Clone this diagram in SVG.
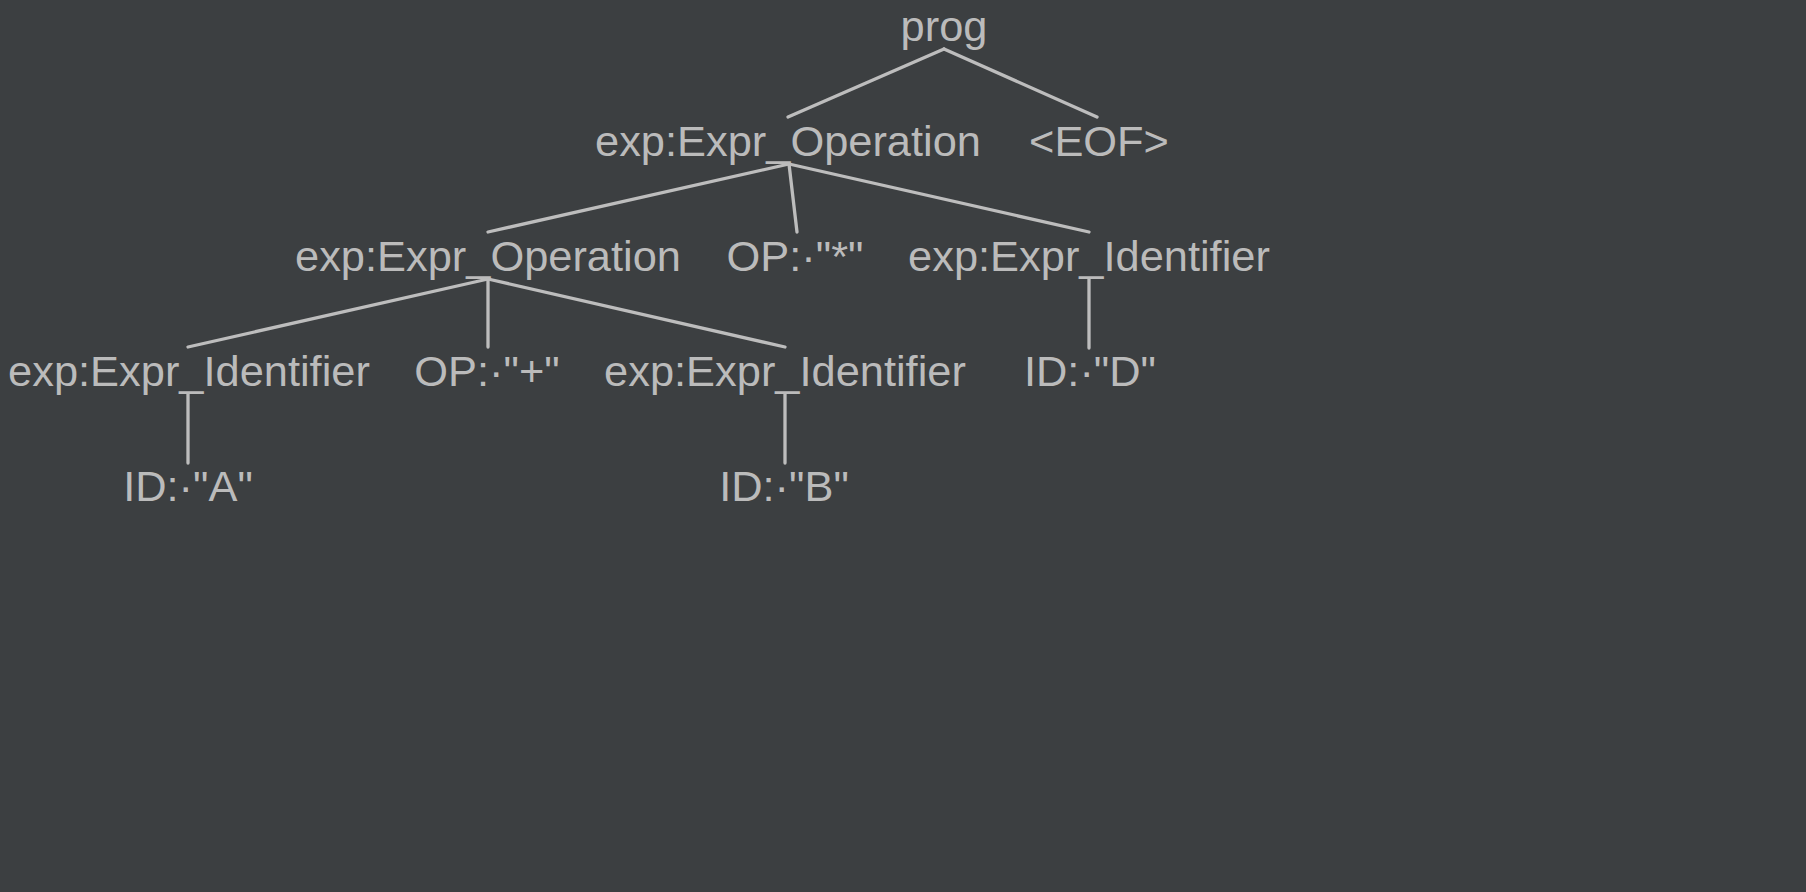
<svg xmlns="http://www.w3.org/2000/svg" width="1806" height="892" viewBox="0 0 1806 892">
<style>
.bg{fill:#3c3f41}
.t{font-family:"Liberation Sans",Arial,sans-serif;font-size:43.4px;fill:#bbbbbb;text-anchor:middle}
.e{stroke:#bdbdbd;stroke-width:3.3;fill:none;stroke-linecap:round}
</style>
<rect class="bg" x="0" y="0" width="1806" height="892"/>
<g id="connectors">
<line class="e" x1="944" y1="49" x2="788" y2="117"/>
<line class="e" x1="944" y1="49" x2="1097" y2="117"/>
<line class="e" x1="789" y1="164" x2="488" y2="232"/>
<line class="e" x1="789" y1="164" x2="797" y2="232"/>
<line class="e" x1="789" y1="164" x2="1089" y2="232"/>
<line class="e" x1="488" y1="279" x2="188" y2="347"/>
<line class="e" x1="488" y1="279" x2="488" y2="347"/>
<line class="e" x1="488" y1="279" x2="785" y2="347"/>
<line class="e" x1="1089" y1="279" x2="1089" y2="348"/>
<line class="e" x1="188" y1="394" x2="188" y2="463"/>
<line class="e" x1="785" y1="394" x2="785" y2="463"/>
</g>
<g id="prog"><text class="t" x="944" y="41">prog</text></g>
<g id="expr_op_1"><text class="t" x="788" y="156">exp:Expr_Operation</text></g>
<g id="eof"><text class="t" x="1099" y="156">&lt;EOF&gt;</text></g>
<g id="expr_op_2"><text class="t" x="488" y="271">exp:Expr_Operation</text></g>
<g id="op_mul"><text class="t" x="795" y="271">OP:·"*"</text></g>
<g id="expr_id_d"><text class="t" x="1089" y="271">exp:Expr_Identifier</text></g>
<g id="expr_id_a"><text class="t" x="189" y="386">exp:Expr_Identifier</text></g>
<g id="op_plus"><text class="t" x="487" y="386">OP:·"+"</text></g>
<g id="expr_id_b"><text class="t" x="785" y="386">exp:Expr_Identifier</text></g>
<g id="id_d"><text class="t" x="1090" y="386">ID:·"D"</text></g>
<g id="id_a"><text class="t" x="188" y="501">ID:·"A"</text></g>
<g id="id_b"><text class="t" x="784" y="501">ID:·"B"</text></g>
</svg>
